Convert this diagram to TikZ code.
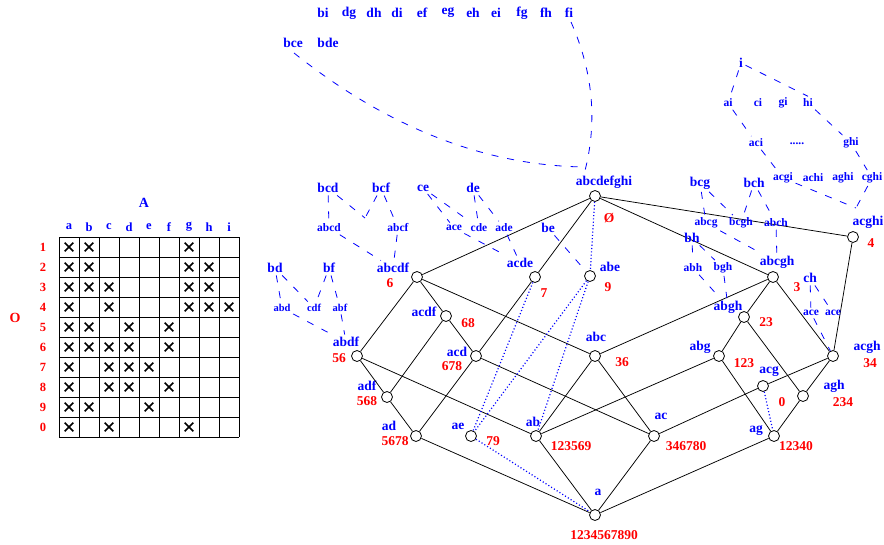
\documentclass[tikz,border=0pt]{standalone}
\usepackage{fontspec}
\setmainfont{Liberation Serif}
\begin{document}
\begin{tikzpicture}[x=1pt,y=-1pt,
  lab/.style={font=\fontsize{13.5}{15}\selectfont\bfseries,text=blue,inner sep=2.5pt},
  sml/.style={font=\fontsize{11.5}{13}\selectfont\bfseries,text=blue,inner sep=2.5pt},
  tny/.style={font=\fontsize{10.5}{12}\selectfont\bfseries,text=blue,inner sep=2.5pt},
  num/.style={font=\fontsize{13.5}{15}\selectfont\bfseries,text=red,inner sep=1pt},
  tlab/.style={font=\fontsize{12.5}{14}\selectfont\bfseries,text=blue,inner sep=1pt},
  tnum/.style={font=\fontsize{12.5}{14}\selectfont\bfseries,text=red,inner sep=1pt},
  vtx/.style={circle,draw,minimum size=11pt,inner sep=0pt,line width=0.8pt},
  sline/.style={line width=0.75pt},
  hint/.style={blue,line width=0.8pt,dash pattern=on 7pt off 9pt},
  dotl/.style={blue,line width=1.2pt,dash pattern=on 1.1pt off 2.2pt},
  xmark/.style={line width=1.6pt}
]
\useasboundingbox (0,0) rectangle (884,544);

% ---------------- table ----------------
\node[font=\fontsize{14}{16}\selectfont\bfseries,text=blue] (tA) at (144,203) {A};
\node[font=\fontsize{14}{16}\selectfont\bfseries,text=red] (tO) at (15,318) {O};
\foreach \l [count=\i from 0] in {a,b,c,d,e,f,g,h,i}
  \node[tlab] (col\i) at (69+20*\i,227) {\l};
\foreach \l [count=\i from 0] in {1,2,3,4,5,6,7,8,9,0}
  \node[tnum] (row\i) at (43,247+20*\i) {\l};
\foreach \i in {0,...,9} \draw[line width=0.8pt] (59+20*\i,237) -- (59+20*\i,437);
\foreach \j in {0,...,10} \draw[line width=0.8pt] (59,237+20*\j) -- (239,237+20*\j);
\foreach \c/\r in {0/0,1/0,6/0, 0/1,1/1,6/1,7/1, 0/2,1/2,2/2,6/2,7/2,
  0/3,2/3,6/3,7/3,8/3, 0/4,1/4,3/4,5/4, 0/5,1/5,2/5,3/5,5/5,
  0/6,2/6,3/6,4/6, 0/7,2/7,3/7,5/7, 0/8,1/8,4/8, 0/9,2/9,6/9}
{
  \draw[xmark] (69+20*\c-4.3,247+20*\r-4.3) -- (69+20*\c+4.3,247+20*\r+4.3);
  \draw[xmark] (69+20*\c-4.3,247+20*\r+4.3) -- (69+20*\c+4.3,247+20*\r-4.3);
}

% ---------------- lattice vertices ----------------
\node[vtx] (top) at (595,196) {};
\node[lab] (Ltop) at (604,182) {abcdefghi};
\node[num] (Ntop) at (609,218) {Ø};

\node[vtx] (abcdf) at (417,277) {};
\node[lab] (Labcdf) at (393,268) {abcdf};
\node[num] (Nabcdf) at (390,283) {6};

\node[vtx] (acde) at (535,277) {};
\node[lab] (Lacde) at (520,263) {acde};
\node[num] (Nacde) at (544,293) {7};

\node[vtx] (abe) at (590,276) {};
\node[lab] (Labe) at (610,267) {abe};
\node[num] (Nabe) at (608,287) {9};

\node[vtx] (acghi) at (853,237) {};
\node[lab] (Lacghi) at (868,222) {acghi};
\node[num] (Nacghi) at (871,243) {4};

\node[vtx] (abcgh) at (773,277) {};
\node[lab] (Labcgh) at (777,262) {abcgh};
\node[num] (Nabcgh) at (797,287) {3};

\node[vtx] (acdf) at (446,316) {};
\node[lab] (Lacdf) at (424,312) {acdf};
\node[num] (Nacdf) at (468,323) {68};

\node[vtx] (abgh) at (744,317) {};
\node[lab] (Labgh) at (728,307) {abgh};
\node[num] (Nabgh) at (766,322) {23};

\node[vtx] (abdf) at (357,356) {};
\node[lab] (Labdf) at (346,342) {abdf};
\node[num] (Nabdf) at (339,358) {56};

\node[vtx] (acd) at (476,356) {};
\node[lab] (Lacd) at (457,352) {acd};
\node[num] (Nacd) at (452,366) {678};

\node[vtx] (abc) at (595,356) {};
\node[lab] (Labc) at (596,337) {abc};
\node[num] (Nabc) at (622,362) {36};

\node[vtx] (abg) at (719,356) {};
\node[lab] (Labg) at (700,347) {abg};
\node[num] (Nabg) at (744,363) {123};

\node[vtx] (acgh) at (833,356) {};
\node[lab] (Lacgh) at (867,347) {acgh};
\node[num] (Nacgh) at (870,363) {34};

\node[vtx] (adf) at (387,397) {};
\node[lab] (Ladf) at (367,386) {adf};
\node[num] (Nadf) at (367,401) {568};

\node[vtx] (acg) at (763,386) {};
\node[lab] (Lacg) at (769,372) {acg};
\node[num] (Nacg) at (782,402) {0};

\node[vtx] (agh) at (803,396) {};
\node[lab] (Lagh) at (834,386) {agh};
\node[num] (Nagh) at (843,402) {234};

\node[vtx] (ad) at (416,436) {};
\node[lab] (Lad) at (389,426) {ad};
\node[num] (Nad) at (395,441) {5678};

\node[vtx] (ae) at (471,436) {};
\node[lab] (Lae) at (458,426) {ae};
\node[num] (Nae) at (493,441) {79};

\node[vtx] (ab) at (536,436) {};
\node[lab] (Lab) at (533,422) {ab};
\node[num] (Nab) at (571,446) {123569};

\node[vtx] (ac) at (654,436) {};
\node[lab] (Lac) at (661,416) {ac};
\node[num] (Nac) at (686,446) {346780};

\node[vtx] (ag) at (774,436) {};
\node[lab] (Lag) at (756,431) {ag};
\node[num] (Nag) at (796,446) {12340};

\node[vtx] (a) at (595,515) {};
\node[lab] (La) at (598,492) {a};
\node[num] (Na) at (604,535) {1234567890};

% ---------------- solid edges ----------------
\foreach \u/\v in {top/abcdf, top/acde, top/abcgh, top/acghi,
  abcdf/abdf, abcdf/acdf, abcdf/abc, acde/acd,
  acdf/adf, acdf/acd, abdf/adf, abdf/ab, adf/ad, acd/ad, acd/ac,
  abc/ab, abc/ac, abc/abcgh, abcgh/abgh, abcgh/acgh, acghi/acgh,
  abgh/abg, abgh/agh, abg/ab, abg/ag, acg/acgh, acg/ac,
  agh/ag, agh/acgh, ad/a, ab/a, ac/a, ag/a}
  \draw[sline] (\u) -- (\v);

% ---------------- dotted edges ----------------
\draw[dotl] (top) -- (abe);
\draw[dotl] (acde) -- (ae);
\draw[dotl] (abe) -- (ae);
\draw[dotl] (abe) -- (ab);
\draw[dotl] (ae) -- (a);
\draw[dotl] (acg) -- (ag);

% ---------------- top hint group ----------------
\foreach \t/\x in {bi/323,dg/349,dh/374,di/397,ef/422,eg/448,eh/473,ei/496,fg/522,fh/546,fi/569}
  \node[lab] (h\t) at (\x,13) {\t};
\node[lab] (hbce) at (293,43) {bce};
\node[lab] (hbde) at (328,43) {bde};
\draw[hint] (294,53) .. controls (388,128) and (486,166) .. (586,167);
\draw[hint] (571,22) .. controls (594,74) and (598,126) .. (583,178);

% ---------------- left hint group ----------------
\node[lab] (hbcd) at (328,188) {bcd};
\node[lab] (hbcf) at (381,188) {bcf};
\node[lab] (hce) at (423,188) {ce};
\node[lab] (hde) at (473,188) {de};
\node[sml] (habcd) at (329,228) {abcd};
\node[sml] (habcf) at (398,228) {abcf};
\node[sml] (hace) at (454,228) {ace};
\node[sml] (hcde) at (479,228) {cde};
\node[sml] (hade) at (504,228) {ade};
\node[lab] (hbe) at (548,228) {be};
\coordinate (X1) at (365,218);
\draw[hint] (hbcd) -- (habcd);
\draw[hint] (hbcd) -- (X1);
\draw[hint] (hbcf) -- (X1);
\draw[hint] (hbcf) -- (habcf);
\draw[hint] (habcd) -- (Labcdf);
\draw[hint] (habcf) -- (Labcdf);
\draw[hint] (hce) -- (hace);
\draw[hint] (hce) -- (hcde);
\draw[hint] (hde) -- (hcde);
\draw[hint] (hde) -- (hade);
\draw[hint] (hace) -- (Lacde);
\draw[hint] (hade) -- (Lacde);
\draw[hint] (hbe) -- (abe);

\node[lab] (hbd) at (275,268) {bd};
\node[lab] (hbf) at (329,268) {bf};
\node[tny] (habd) at (282,308) {abd};
\node[tny] (hcdf) at (314,308) {cdf};
\node[tny] (habf) at (340,308) {abf};
\draw[hint] (hbd) -- (habd);
\draw[hint] (hbd) -- (hcdf);
\draw[hint] (hbf) -- (hcdf);
\draw[hint] (hbf) -- (habf);
\draw[hint] (habd) -- (Labdf);
\draw[hint] (habf) -- (Labdf);

% ---------------- right hint group ----------------
\node[lab] (hi) at (741,63) {i};
\node[sml] (hai) at (728,103) {ai};
\node[sml] (hci) at (758,103) {ci};
\node[sml] (hgi) at (783,103) {gi};
\node[sml] (hhi) at (808,103) {hi};
\node[sml] (haci) at (756,143) {aci};
\node[sml] (hdots) at (797,144) {.....};
\node[sml] (hghi) at (851,143) {ghi};
\node[sml] (hacgi) at (783,178) {acgi};
\node[sml] (hachi) at (813,178) {achi};
\node[sml] (haghi) at (843,178) {aghi};
\node[sml] (hcghi) at (872,178) {cghi};
\coordinate (E1) at (856,208);
\draw[hint] (hi) -- (hai);
\draw[hint] (hai) -- (haci);
\draw[hint] (haci) -- (hacgi);
\draw[hint] (hacgi) -- (E1);
\draw[hint] (hi) -- (hhi.north);
\draw[hint] (hhi) -- (hghi);
\draw[hint] (hghi) -- (hcghi);
\draw[hint] (hcghi) -- (E1);

\node[lab] (hbcg) at (700,183) {bcg};
\node[lab] (hbch) at (754,183) {bch};
\node[sml] (habcg) at (706,223) {abcg};
\node[sml] (hbcgh) at (741,223) {bcgh};
\node[sml] (habch) at (776,223) {abch};
\draw[hint] (hbcg) -- (habcg);
\draw[hint] (hbcg) -- (hbcgh);
\draw[hint] (hbch) -- (hbcgh);
\draw[hint] (hbch) -- (habch);
\draw[hint] (habcg) -- (Labcgh);
\draw[hint] (habch) -- (Labcgh);

\node[lab] (hbh) at (692,238) {bh};
\node[sml] (habh) at (693,268) {abh};
\node[sml] (hbgh) at (723,268) {bgh};
\draw[hint] (hbh) -- (habh);
\draw[hint] (hbh) -- (hbgh);
\draw[hint] (habh) -- (Labgh);
\draw[hint] (hbgh) -- (Labgh);

\node[lab] (hch) at (810,278) {ch};
\node[sml] (hace1) at (811,313) {ace};
\node[sml] (hace2) at (833,313) {ace};
\draw[hint] (hch) -- (hace1);
\draw[hint] (hch) -- (hace2);
\draw[hint] (hace1) -- (acgh);
\end{tikzpicture}
\end{document}
